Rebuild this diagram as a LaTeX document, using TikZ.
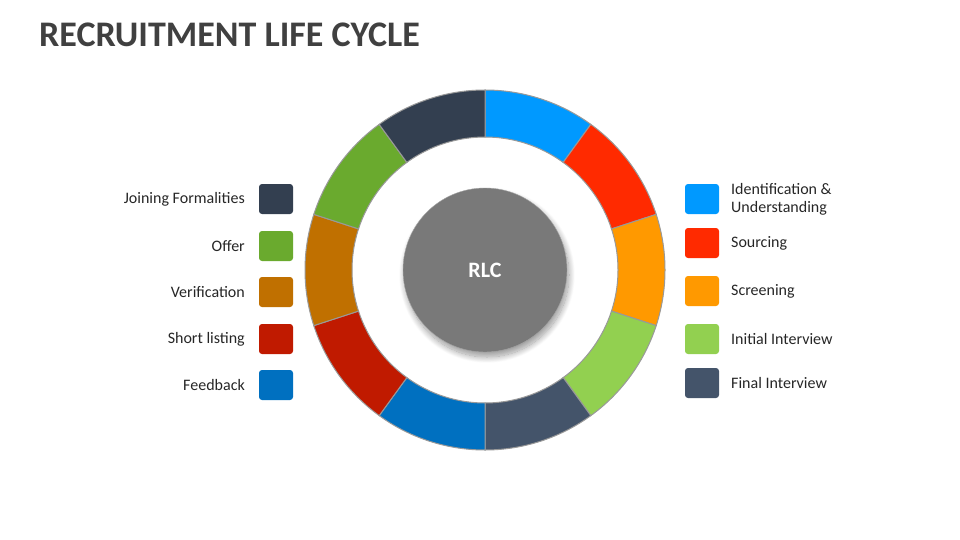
\documentclass[tikz,border=0pt]{standalone}
\usepackage{fontspec}
\setmainfont{Carlito}
\usetikzlibrary{shadows.blur}
\definecolor{c1}{HTML}{0099FF}
\definecolor{c2}{HTML}{FF2A00}
\definecolor{c3}{HTML}{FF9900}
\definecolor{c4}{HTML}{92D050}
\definecolor{c5}{HTML}{44546A}
\definecolor{c6}{HTML}{0070C0}
\definecolor{c7}{HTML}{C01A00}
\definecolor{c8}{HTML}{C07000}
\definecolor{c9}{HTML}{6AAA2E}
\definecolor{c10}{HTML}{333F50}
\definecolor{titlec}{HTML}{404040}
\tikzset{seg/.style={draw=black!40,line width=1pt},
 box/.style={rounded corners=3pt,minimum width=34pt,minimum height=30pt,inner sep=0pt},
 lbl/.style={font=\fontsize{16}{18}\selectfont,text=black!85,inner sep=0pt}}
\begin{document}
\begin{tikzpicture}[x=1pt,y=-1pt]
\useasboundingbox (0,0) rectangle (960,540);
\node[anchor=west,font=\fontsize{36}{38}\selectfont\bfseries,text=titlec,inner sep=0pt] (title) at (39,35) {RECRUITMENT LIFE CYCLE};
\coordinate (c) at (485,270);
\begin{scope}[shift={(485,270)},y=1pt]
\foreach \i/\col in {0/c1,1/c2,2/c3,3/c4,4/c5,5/c6,6/c7,7/c8,8/c9,9/c10}{
  \pgfmathsetmacro\a{90-36*\i}\pgfmathsetmacro\b{54-36*\i}
  \fill[\col,seg] (\a:180) arc[start angle=\a,end angle=\b,radius=180] -- (\b:133) arc[start angle=\b,end angle=\a,radius=133] -- cycle;
}
\end{scope}
\node[circle,minimum size=164pt,fill=gray!95!black,draw=gray!70,blur shadow={shadow blur steps=16,shadow xshift=2pt,shadow yshift=-5pt,shadow blur radius=6pt},text=white,font=\fontsize{22}{24}\selectfont\bfseries] (rlc) at (c) {RLC};
\foreach \y/\col/\t [count=\k] in {199/c1/{Identification \&\\Understanding},243/c2/Sourcing,291/c3/Screening,339/c4/Initial Interview,383/c5/Final Interview}{
  \node[box,fill=\col] (r\k) at (702,\y) {};
  \node[lbl,anchor=west,align=left] (rl\k) at (731,\y) {\t};
}
\foreach \y/\col/\t [count=\k] in {199/c10/Joining Formalities,246/c9/Offer,292/c8/Verification,339/c7/Short listing,385/c6/Feedback}{
  \node[box,fill=\col] (l\k) at (276,\y) {};
  \node[lbl,anchor=east] (ll\k) at (245,\y) {\t};
}
\end{tikzpicture}
\end{document}
